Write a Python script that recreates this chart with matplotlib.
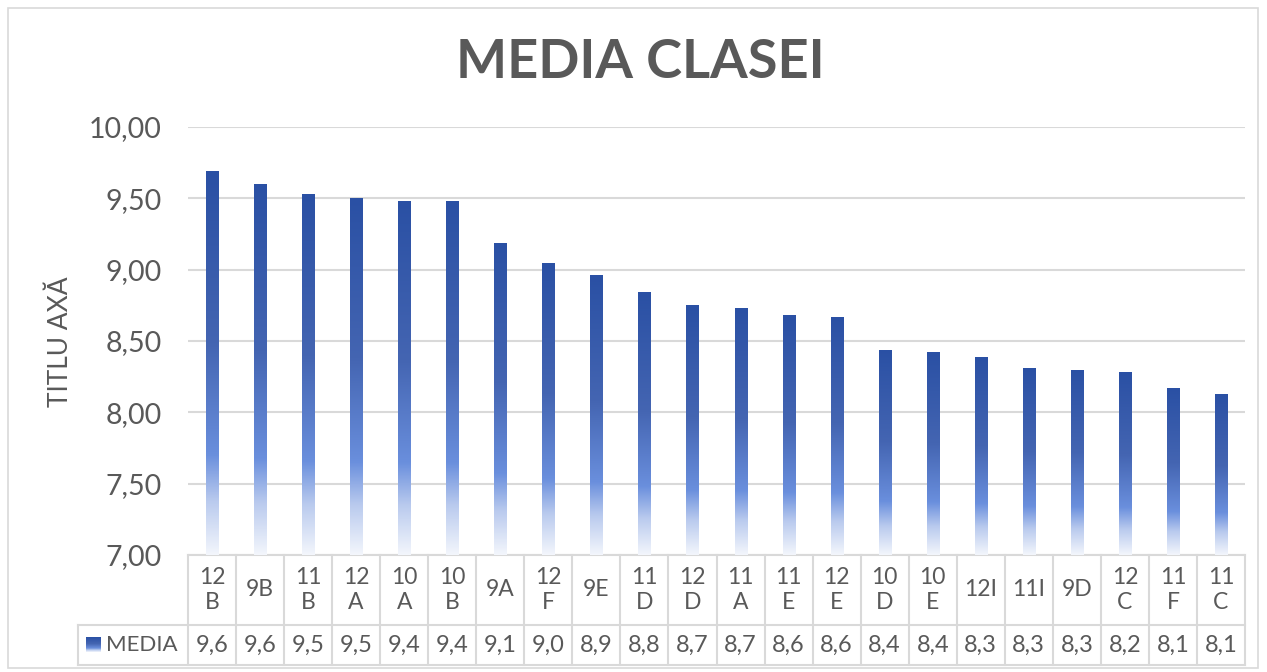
import math
import numpy as np
from matplotlib import pyplot as plt
from matplotlib.colors import LinearSegmentedColormap
from matplotlib.patches import Rectangle

# categories (as shown in the data table, wrapped like in Excel)
labels = ["12\nB", "9B", "11\nB", "12\nA", "10\nA", "10\nB", "9A", "12\nF", "9E",
          "11\nD", "12\nD", "11\nA", "11\nE", "12\nE", "10\nD", "10\nE", "12I",
          "11I", "9D", "12\nC", "11\nF", "11\nC"]
media = [9.69, 9.60, 9.53, 9.50, 9.48, 9.48, 9.19, 9.05, 8.96, 8.84, 8.75, 8.73,
         8.68, 8.67, 8.44, 8.42, 8.385, 8.31, 8.30, 8.28, 8.17, 8.13]
yticks = [7.0, 7.5, 8.0, 8.5, 9.0, 9.5, 10.0]

grey = "#595959"
gridc = "#D9D9D9"
plt.rcParams['font.family'] = ['Lato', 'DejaVu Sans']

# gradient used by the bars (top -> bottom)
cmap = LinearSegmentedColormap.from_list("bar", [
    (0.0, "#2A50A4"), (0.45, "#4465B2"), (0.74, "#6A8FDD"),
    (0.86, "#B9CAEE"), (1.0, "#F3F6FC")])
grad = np.linspace(0, 1, 256).reshape(-1, 1)

fig = plt.figure(figsize=(12.67, 6.72), dpi=100)
ax = fig.add_axes([188 / 1267, 117 / 672, 1057 / 1267, 428 / 672])

x = np.arange(len(media))
bars = ax.bar(x, [v - 7 for v in media], bottom=7, width=0.25,
              facecolor="none", edgecolor="none", zorder=3)
for b in bars:
    x0, y0, w, h = b.get_x(), b.get_y(), b.get_width(), b.get_height()
    im = ax.imshow(grad, cmap=cmap, aspect="auto", extent=[x0, x0 + w, y0, y0 + h],
                   origin="upper", zorder=3)
    im.set_clip_path(b)

ax.set_xlim(-0.5, len(media) - 0.5)
ax.set_ylim(7, 10)
ax.set_yticks(yticks)
ax.set_yticklabels([f"{t:.2f}".replace(".", ",") for t in yticks], fontsize=20.5, color=grey)
ax.tick_params(axis="y", length=0, pad=19)
ax.set_xticks([])
ax.grid(axis="y", color=gridc, linewidth=1.5, zorder=0)
ax.set_axisbelow(True)
for s in ["left", "right", "top"]:
    ax.spines[s].set_visible(False)
ax.spines["bottom"].set_color(gridc)
ax.spines["bottom"].set_linewidth(1.5)

# data table under the plot
tr = ax.get_xaxis_transform()
row1 = -70 / 428
row2 = -110 / 428
leg_left = -110 / 1057
n = len(media)
for i in range(n + 1):
    ax.plot([i - 0.5, i - 0.5], [0, row2], transform=tr, color=gridc, lw=1.5, clip_on=False)
ax.plot([leg_left, 1], [row1, row1], transform=ax.transAxes, color=gridc, lw=1.5, clip_on=False)
ax.plot([leg_left, 1], [row2, row2], transform=ax.transAxes, color=gridc, lw=1.5, clip_on=False)
ax.plot([leg_left, leg_left], [row1, row2], transform=ax.transAxes, color=gridc, lw=1.5, clip_on=False)

for i, (lab, v) in enumerate(zip(labels, media)):
    ax.text(i, -35 / 428, lab, transform=tr, ha="center", va="center",
            fontsize=16.5, color=grey, linespacing=1.25)
    shown = math.floor(v * 10 + 1e-9) / 10
    ax.text(i, -90 / 428, f"{shown:.1f}".replace(".", ","), transform=tr,
            ha="center", va="center", fontsize=17, color=grey)

# legend key inside the table
lax = fig.add_axes([86 / 1267, (672 - 652) / 672, 15 / 1267, 15 / 672])
lax.imshow(grad, cmap=cmap, aspect="auto")
lax.axis("off")
fig.text(106 / 1267, 1 - 645 / 672, "MEDIA", ha="left", va="center", fontsize=16, color=grey)

fig.text(640 / 1267, 1 - 62 / 672, "MEDIA CLASEI", ha="center", va="center",
         fontsize=39, fontweight="bold", color=grey)
fig.text(60 / 1267, 1 - 342 / 672, "TITLU AXĂ", rotation=90, ha="center", va="center",
         fontsize=19, color=grey)

fig.patches.append(Rectangle((8 / 1267, 4 / 672), 1250 / 1267, 660 / 672,
                             transform=fig.transFigure, fill=False, edgecolor=gridc, lw=1.2))

plt.savefig("out.png", dpi=100)
